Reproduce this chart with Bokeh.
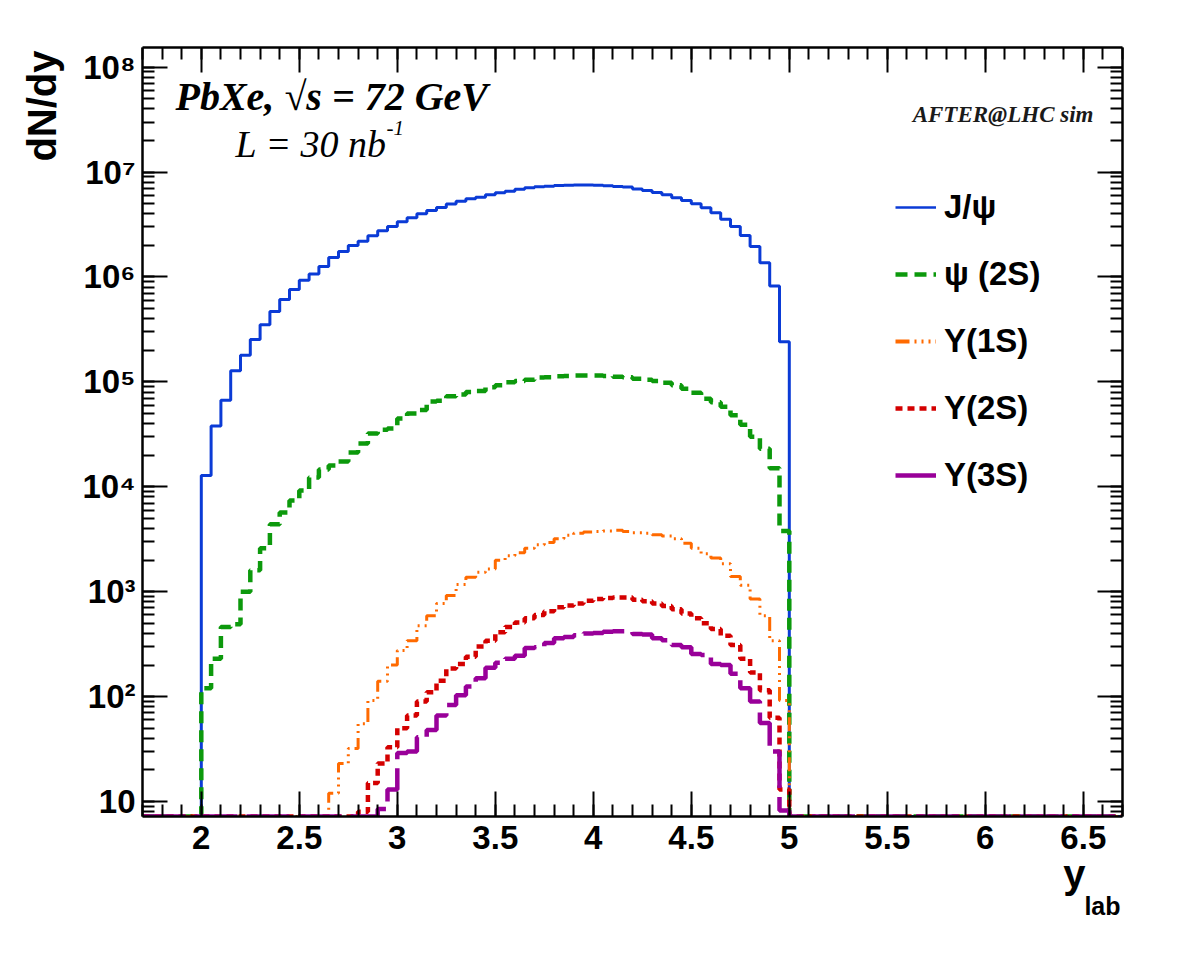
import math
import numpy as np
from bokeh.plotting import figure
from bokeh.models import (LinearAxis, LogAxis, SingleIntervalTicker, LogTicker,
                          CustomJSTickFormatter, Label, Legend, LegendItem, Title)
from bokeh.embed import file_html
from bokeh.resources import INLINE

# y_lab bins: width 0.05, first filled bin starts at 2.00, last at 4.95
bin_lo = [round(2.00 + 0.05 * i, 2) for i in range(60)]

jpsi = [1.28e4, 3.8e4, 6.7e4, 1.28e5, 1.79e5, 2.54e5, 3.51e5, 4.70e5, 6.1e5, 7.6e5,
        9.3e5, 1.07e6, 1.26e6, 1.53e6, 1.75e6, 2.0e6, 2.19e6, 2.47e6, 2.76e6, 3.03e6,
        3.36e6, 3.67e6, 4.0e6, 4.3e6, 4.6e6, 4.95e6, 5.28e6, 5.56e6, 5.76e6, 6.07e6,
        6.35e6, 6.58e6, 6.87e6, 7.08e6, 7.24e6, 7.34e6, 7.45e6, 7.50e6, 7.55e6, 7.55e6,
        7.50e6, 7.40e6, 7.30e6, 7.20e6, 6.90e6, 6.67e6, 6.38e6, 6.07e6, 5.69e6, 5.37e6,
        4.99e6, 4.57e6, 4.10e6, 3.56e6, 3.03e6, 2.49e6, 1.95e6, 1.37e6, 8.2e5, 2.41e5]

psi2s = [1.2e2, 2.3e2, 4.6e2, 4.9e2, 1.0e3, 1.6e3, 2.6e3, 4.4e3, 5.7e3, 7.4e3,
         9.2e3, 1.23e4, 1.46e4, 1.6e4, 1.74e4, 2.12e4, 2.59e4, 3.22e4, 3.5e4, 3.6e4,
         4.48e4, 5.0e4, 5.4e4, 6.5e4, 6.6e4, 7.3e4, 7.6e4, 8.0e4, 8.2e4, 8.9e4,
         9.3e4, 9.9e4, 1.02e5, 1.05e5, 1.10e5, 1.11e5, 1.13e5, 1.14e5, 1.15e5, 1.15e5,
         1.15e5, 1.14e5, 1.12e5, 1.11e5, 1.07e5, 1.05e5, 1.02e5, 9.8e4, 9.3e4, 8.6e4,
         7.9e4, 6.9e4, 6.4e4, 5.8e4, 4.8e4, 3.9e4, 3.0e4, 2.3e4, 1.5e4, 3.8e3]

ups1s = [0, 0, 0, 0, 0, 0, 0, 0, 0, 0,
         0, 0, 0, 12, 23, 32, 55, 92, 140, 200,
         275, 340, 475, 590, 770, 920, 1170, 1370, 1530, 1650,
         2000, 2200, 2350, 2600, 2800, 2950, 3200, 3450, 3600, 3700,
         3750, 3800, 3850, 3750, 3650, 3600, 3500, 3400, 3200, 2900,
         2600, 2300, 2100, 1850, 1400, 1150, 850, 590, 340, 92]

ups2s = [0, 0, 0, 0, 0, 0, 0, 0, 0, 0,
         0, 0, 0, 0, 0, 0, 8, 15, 23, 33,
         50, 66, 90, 110, 142, 185, 205, 240, 300, 340,
         410, 460, 510, 560, 600, 650, 710, 740, 770, 820,
         850, 870, 880, 880, 840, 810, 770, 730, 680, 620,
         560, 500, 440, 380, 310, 230, 170, 115, 63, 13]

ups3s = [0, 0, 0, 0, 0, 0, 0, 0, 0, 0,
         0, 0, 0, 0, 0, 0, 0, 0, 8.5, 13,
         29, 30, 41, 48, 66, 83, 103, 125, 150, 188,
         210, 230, 245, 290, 295, 325, 360, 370, 385, 400,
         405, 415, 420, 420, 395, 390, 360, 345, 310, 295,
         255, 250, 205, 200, 165, 120, 90, 56, 30, 8.2]

labels = ["J/ψ", "ψ (2S)", "Υ(1S)", "Υ(2S)", "Υ(3S)"]
colors = ["#0b3bd6", "#0c990c", "#ff6a00", "#d40000", "#990099"]

X0, X1 = 1.7, 6.7
Y0, Y1 = 7.2, 1.54e8
BIN_W = 0.05

FL, FR, FT, FB = 142, 1122, 47, 816
W, H = 1182, 961

p = figure(width=W, height=H, x_range=(X0, X1), y_range=(Y0, Y1), y_axis_type="log",
           output_backend="svg", toolbar_location=None,
           min_border_left=FL, min_border_right=W - FR,
           min_border_top=FT, min_border_bottom=H - FB)
p.xgrid.visible = False
p.ygrid.visible = False
p.outline_line_color = None
p.background_fill_color = "white"
p.border_fill_color = "white"

# full histogram axis from X0 to X1, empty bins drawn on the frame floor
edges = np.round(np.arange(X0, X1 + 1e-9, BIN_W), 2)
nb = len(edges) - 1
offset = int(round((bin_lo[0] - X0) / BIN_W))


def step_values(vals):
    full = np.zeros(nb)
    full[offset:offset + len(vals)] = vals
    full = np.where(full > 0, full, Y0)
    return np.append(full, full[-1])


styles = [
    dict(line_width=3, line_dash="solid"),
    dict(line_width=4.5, line_dash="12 7"),
    dict(line_width=3, line_dash="14 5 2 5 2 5 2 5"),
    dict(line_width=4.5, line_dash="7 5"),
    dict(line_width=4.5, line_dash="43 9"),
]
for vals, col, st in zip([jpsi, psi2s, ups1s, ups2s, ups3s], colors, styles):
    p.step(x=edges, y=step_values(vals), mode="after", line_color=col, **st)

# legend samples (legend-only renderers, placed off the visible range)
leg_styles = [
    dict(line_width=2.5, line_dash="solid"),
    dict(line_width=4.5, line_dash="12 7"),
    dict(line_width=4, line_dash="14 5 2 5 2 5 2 5"),
    dict(line_width=4.5, line_dash="7 5"),
    dict(line_width=4.5, line_dash="solid"),
]
items = []
for lab, col, st in zip(labels, colors, leg_styles):
    r = p.line(x=[X0 - 1, X0 - 0.5], y=[1.0, 1.0], line_color=col, **st)
    items.append(LegendItem(label=lab, renderers=[r]))

ITEM_H, ITEM_GAP = 40, 27
leg_h = 5 * ITEM_H + 4 * ITEM_GAP
leg_top = 207 - ITEM_H / 2
legend = Legend(items=items, location=(895 - FL, FB - (leg_top + leg_h)),
                padding=0, margin=0, spacing=ITEM_GAP,
                glyph_width=41, glyph_height=ITEM_H, label_height=ITEM_H,
                label_standoff=8,
                label_text_font="Liberation Sans", label_text_font_style="bold",
                label_text_font_size="33px", label_text_color="black",
                border_line_color=None, background_fill_alpha=0)
p.add_layout(legend, "center")

# axes
TICK_FONT = "Liberation Sans"
blank_fmt = CustomJSTickFormatter(code="return '';")


def style_axis(ax, show_labels):
    ax.axis_line_width = 2.5
    ax.axis_line_color = "black"
    ax.major_tick_in = 25
    ax.major_tick_out = 0
    ax.minor_tick_in = 12
    ax.minor_tick_out = 0
    ax.major_tick_line_width = 2
    ax.minor_tick_line_width = 2
    ax.major_tick_line_color = "black"
    ax.minor_tick_line_color = "black"
    ax.major_label_text_font = TICK_FONT
    ax.major_label_text_font_style = "bold"
    ax.major_label_text_font_size = "33px"
    ax.major_label_text_color = "black"
    if not show_labels:
        ax.formatter = blank_fmt
        ax.major_label_standoff = 0


x_fmt = CustomJSTickFormatter(code="return String(Math.round(tick*10)/10);")
y_fmt = CustomJSTickFormatter(code="""
const e = Math.round(Math.log10(tick));
if (e == 1) return '10';
const sup = '⁰¹²³⁴⁵⁶⁷⁸⁹';
return '10' + String(e).split('').map(d => sup[+d]).join('');
""")

xb = p.xaxis[0]
xb.ticker = SingleIntervalTicker(interval=0.5, num_minor_ticks=5)
xb.formatter = x_fmt
style_axis(xb, True)
xb.major_label_standoff = 9

yl = p.yaxis[0]
yl.ticker = LogTicker(desired_num_ticks=9, num_minor_ticks=10)
yl.formatter = y_fmt
style_axis(yl, True)
yl.major_label_standoff = 7

xt = LinearAxis(ticker=SingleIntervalTicker(interval=0.5, num_minor_ticks=5))
style_axis(xt, False)
p.add_layout(xt, "above")

yr = LogAxis(ticker=LogTicker(desired_num_ticks=9, num_minor_ticks=10))
style_axis(yr, False)
p.add_layout(yr, "right")

SERIF = "Liberation Serif"
SANS = "Liberation Sans"


# axis titles, placed at the far end of each axis
def make_title(text, size, align, valign, off, standoff):
    t = Title(text=text, align=align, vertical_align=valign, offset=off,
              text_font=SANS, text_font_style="bold", text_font_size=size,
              text_color="black")
    try:
        t.standoff = standoff
    except ValueError:
        t.standoff = 0
    return t


p.add_layout(make_title("dN/dy", "40px", "right", "top", 3, 28), "left")
p.add_layout(make_title("y", "40px", "right", "top", 37, 0), "below")
p.add_layout(make_title("lab", "25px", "right", "top", 2, -12), "below")


# pixel -> data helpers for text inside the frame
def dx(px):
    return X0 + (px - FL) * (X1 - X0) / (FR - FL)


def dy(py):
    l0, l1 = math.log10(Y0), math.log10(Y1)
    return 10 ** (l0 + (FB - py) * (l1 - l0) / (FB - FT))


def add_text(px, py, text, font, style, size, align="left", color="black"):
    p.add_layout(Label(x=dx(px), y=dy(py), text=text, text_font=font,
                       text_font_style=style, text_font_size=size,
                       text_align=align, text_baseline="alphabetic",
                       text_color=color))


add_text(175, 96, "PbXe,  √s = 72 GeV", SERIF, "bold italic", "40px")
add_text(235, 143, "L = 30 nb", SERIF, "italic", "38px")
add_text(386, 127, "-1", SERIF, "italic", "21px")
add_text(1093, 114, "AFTER@LHC sim", SERIF, "bold italic", "23px", align="right",
         color="#1a1a1a")

open("out.html", "w").write(file_html(p, INLINE))
